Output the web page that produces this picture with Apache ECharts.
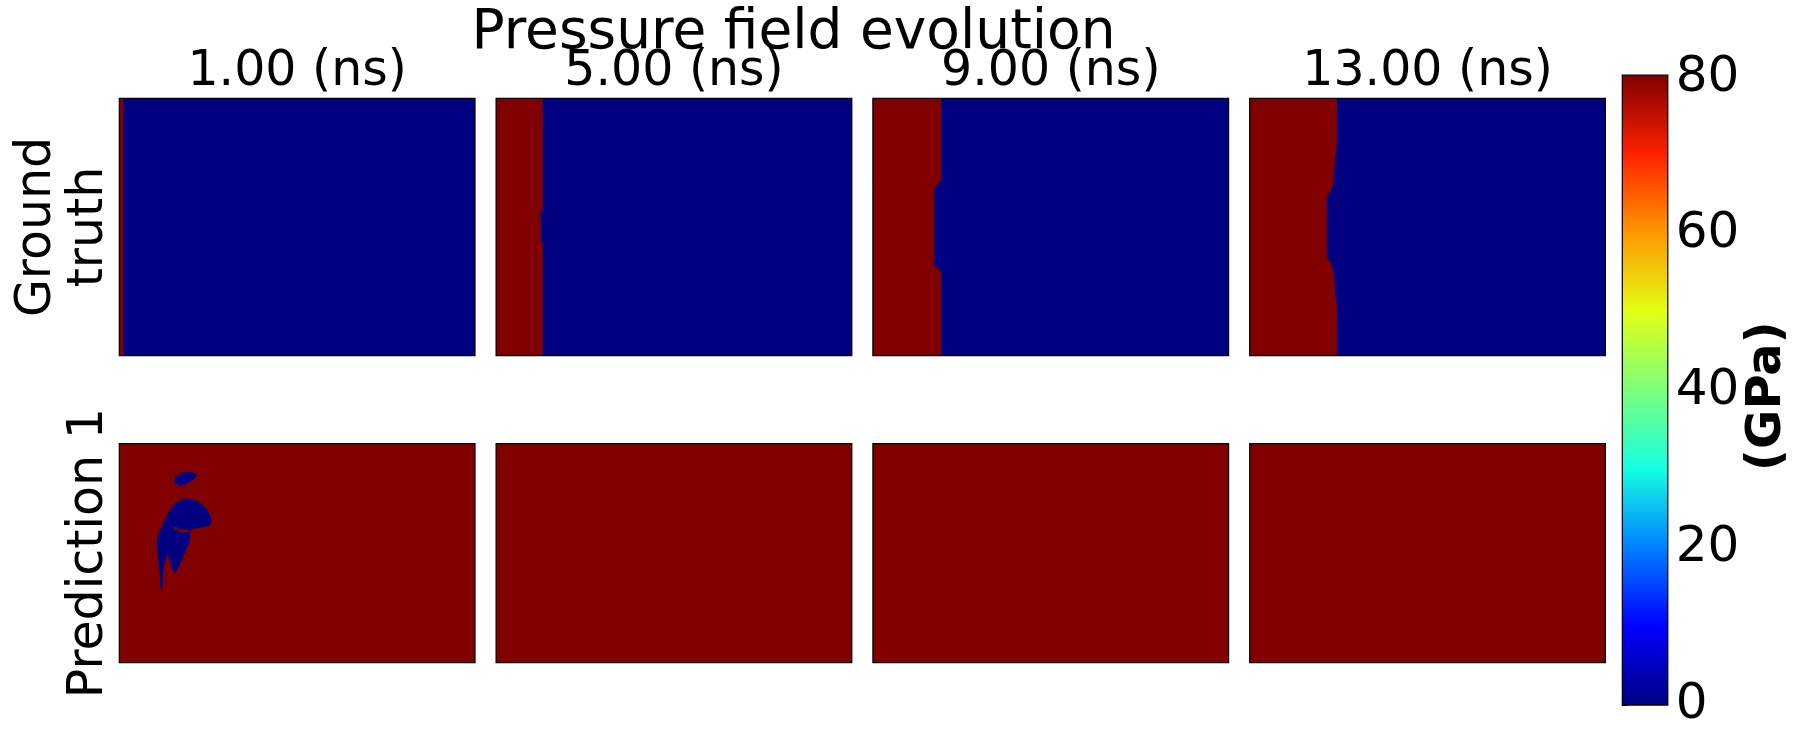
<!DOCTYPE html>
<html>
<head>
<meta charset="utf-8">
<script src="https://cdn.jsdelivr.net/npm/echarts@6/dist/echarts.min.js"></script>
<style>
  html, body { margin: 0; padding: 0; background: #fff; }
  #chart { width: 1804px; height: 744px; }
</style>
</head>
<body>
<div id="chart"></div>
<script>
// ---------------- data ----------------
const MAIN_TITLE = 'Pressure field evolution';
const TIMES = ['1.00 (ns)', '5.00 (ns)', '9.00 (ns)', '13.00 (ns)'];
const ROW_LABELS = ['Ground\ntruth', 'Prediction 1'];
const CBAR_NAME = '(GPa)';
const CBAR_TICKS = [0, 20, 40, 60, 80];
const P_MIN = 0;
const P_MAX = 80.3;
const P_LOW = 0;      // pressure ahead of the shock front
const P_HIGH = 80.3;  // saturated pressure behind the front

// field domain (cells): x 0..200 (left->right), y 0..100 (top->bottom)
const X_MAX = 200;
const Y_MAX = 100;

// ground-truth shock front, per snapshot: [y, x_front]
const FRONT_T1 = [[0, 2.2], [100, 2.2]];
const FRONT_T5 = [[0, 26.2], [44.0, 26.2], [44.0, 25.1], [55.7, 25.1], [55.7, 26.2], [100, 26.2]];
const FRONT_T9 = [[0, 38.4], [31.7, 38.4], [34.9, 34.5], [64.8, 34.5], [67.5, 38.4], [100, 38.4]];
const FRONT_T13 = [[0, 49.1], [16.9, 49.1], [24.0, 48.0], [29.8, 47.4], [33.7, 47.0], [36.3, 45.3],
                   [37.6, 43.5], [61.8, 43.5], [63.5, 45.3], [65.9, 46.8], [69.3, 47.6], [76.4, 48.2],
                   [81.5, 49.1], [100, 49.1]];

// prediction 1 at 1.00 ns: low-pressure pockets [x, y] inside a saturated field
const PRED1_T1_POCKET_SMALL = [[30.9, 16.6], [31.7, 15.1], [33.6, 13.8], [36.6, 12.9], [39.8, 12.8],
  [42.6, 13.5], [43.9, 14.4], [42.6, 15.8], [40.3, 17.3], [36.9, 18.6], [34.1, 19.2], [32.3, 18.6], [31.1, 17.6]];
const PRED1_T1_POCKET_MAIN = [[36.6, 25.0], [40.7, 25.3], [44.4, 26.5], [47.4, 28.1], [49.7, 30.4],
  [51.2, 32.9], [51.9, 35.0], [51.4, 36.8], [50.1, 37.7], [47.8, 38.0], [44.4, 38.5], [40.7, 38.8],
  [39.9, 40.2], [39.9, 42.0], [39.8, 44.0], [38.8, 46.3], [37.3, 49.0], [35.6, 52.4], [33.9, 55.4],
  [32.6, 57.7], [31.7, 58.7], [30.6, 58.7], [29.8, 57.2], [29.1, 55.1], [28.3, 53.1], [27.2, 50.5],
  [26.1, 52.7], [25.3, 55.4], [24.8, 59.2], [24.4, 63.0], [24.0, 66.8], [23.3, 66.8], [22.9, 63.0],
  [22.7, 59.2], [22.3, 55.4], [21.8, 52.4], [21.4, 48.5], [21.2, 44.7], [21.6, 42.0], [22.5, 39.9],
  [23.8, 37.9], [25.1, 35.6], [26.6, 32.9], [28.3, 30.4], [30.4, 28.1], [32.6, 26.5], [34.5, 25.6]];
// saturated slivers left inside the main pocket
const PRED1_T1_GAP_STREAK = [[33.2, 39.0], [36.9, 39.1], [39.9, 39.9], [38.1, 40.6], [34.7, 40.3], [32.8, 39.9]];
const PRED1_T1_GAP_SPOT = [[30.8, 38.0], [32.4, 38.0], [32.6, 39.3], [31.3, 39.6], [30.6, 39.0]];

// jet colormap stops
const JET = ['#000080', '#0000ff', '#0080ff', '#15ffe2', '#7bff7b', '#e2ff15', '#ff9700', '#ff2100', '#800000'];

// ---------------- layout ----------------
const FONT = 'DejaVu Sans';
const COL_LEFT0 = 119.3, COL_STEP = 376.8, COL_W = 355.7;
const ROW_TOP = [98.3, 443.7], ROW_H = [257.4, 219];
const CB = { left: 1622.3, top: 75.2, width: 45.5, height: 629.9 };

const FULL = [[0, 0], [X_MAX, 0], [X_MAX, Y_MAX], [0, Y_MAX]];
function frontRegion(front) {
  return [[0, 0]].concat(front.map(([y, x]) => [x, y])).concat([[0, Y_MAX]]);
}
const GT_FRONTS = [FRONT_T1, FRONT_T5, FRONT_T9, FRONT_T13];
const PANELS = [
  GT_FRONTS.map(f => [{ poly: FULL, p: P_LOW }, { poly: frontRegion(f), p: P_HIGH }]),
  [
    [{ poly: FULL, p: P_HIGH },
     { poly: PRED1_T1_POCKET_SMALL, p: P_LOW },
     { poly: PRED1_T1_POCKET_MAIN, p: P_LOW },
     { poly: PRED1_T1_GAP_STREAK, p: P_HIGH },
     { poly: PRED1_T1_GAP_SPOT, p: P_HIGH }],
    [{ poly: FULL, p: P_HIGH }],
    [{ poly: FULL, p: P_HIGH }],
    [{ poly: FULL, p: P_HIGH }]
  ]
];

const grid = [], xAxis = [], yAxis = [], series = [], title = [];
title.push({ text: MAIN_TITLE, left: 793.5, top: 6, textAlign: 'center', padding: 0,
  textStyle: { fontFamily: FONT, fontSize: 55, fontWeight: 'normal', color: '#000' } });
TIMES.forEach((t, c) => {
  title.push({ text: t, left: COL_LEFT0 + c * COL_STEP + COL_W / 2, top: 48, textAlign: 'center', padding: 0,
    textStyle: { fontFamily: FONT, fontSize: 49, fontWeight: 'normal', color: '#000' } });
});

let gi = 0;
const panelSeries = [];
for (let r = 0; r < 2; r++) {
  for (let c = 0; c < 4; c++) {
    grid.push({ left: COL_LEFT0 + c * COL_STEP, top: ROW_TOP[r], width: COL_W, height: ROW_H[r],
      show: true, borderColor: '#000', borderWidth: 1.2, backgroundColor: 'transparent', z: 10 });
    xAxis.push({ gridIndex: gi, type: 'value', min: 0, max: X_MAX, show: false });
    const ya = { gridIndex: gi, type: 'value', min: 0, max: Y_MAX, inverse: true,
      axisLine: { show: false }, axisTick: { show: false }, axisLabel: { show: false }, splitLine: { show: false } };
    if (c === 0) {
      Object.assign(ya, { name: ROW_LABELS[r], nameLocation: 'middle', nameRotate: 90, nameGap: 4,
        nameTextStyle: { fontFamily: FONT, fontSize: 49, color: '#000', lineHeight: 52 } });
    }
    yAxis.push(ya);
    const shapes = PANELS[r][c];
    series.push({
      type: 'custom', coordinateSystem: 'cartesian2d', xAxisIndex: gi, yAxisIndex: gi,
      silent: true, animation: false,
      data: shapes.map((s, i) => [i, s.p]),
      dimensions: ['idx', 'pressure'],
      renderItem: function (params, api) {
        const s = shapes[params.dataIndex];
        return { type: 'polygon', z2: params.dataIndex,
          shape: { points: s.poly.map(pt => api.coord(pt)) },
          style: { fill: api.visual('color') } };
      }
    });
    panelSeries.push(gi);
    gi++;
  }
}

// colorbar
grid.push({ left: CB.left, top: CB.top, width: CB.width, height: CB.height,
  show: true, borderColor: '#000', borderWidth: 1.2, backgroundColor: 'transparent', z: 10 });
xAxis.push({ gridIndex: gi, type: 'value', min: 0, max: 1, show: false });
yAxis.push({ gridIndex: gi, type: 'value', min: P_MIN, max: P_MAX, position: 'right',
  axisLine: { show: true, lineStyle: { color: '#000', width: 1 } },
  axisTick: { show: true, length: 5, customValues: CBAR_TICKS, lineStyle: { color: '#000', width: 1 } },
  axisLabel: { show: true, customValues: CBAR_TICKS, margin: 8, color: '#000', fontFamily: FONT, fontSize: 50 },
  splitLine: { show: false },
  name: CBAR_NAME, nameLocation: 'middle', nameRotate: 90, nameGap: 75,
  nameTextStyle: { fontFamily: FONT, fontSize: 48, fontWeight: 'bold', color: '#000', padding: [0, 12, 0, 0] } });
series.push({
  type: 'custom', coordinateSystem: 'cartesian2d', xAxisIndex: gi, yAxisIndex: gi, silent: true,
  data: [[0, P_MIN]],
  renderItem: function (params, api) {
    const p0 = api.coord([0, P_MIN]);
    const p1 = api.coord([1, P_MAX]);
    return { type: 'rect',
      shape: { x: p0[0], y: p1[1], width: p1[0] - p0[0], height: p0[1] - p1[1] },
      style: { fill: new echarts.graphic.LinearGradient(0, 1, 0, 0,
        JET.map((col, i) => ({ offset: i / (JET.length - 1), color: col }))) } };
  }
});

const chart = echarts.init(document.getElementById('chart'), null, { renderer: 'canvas' });
chart.setOption({
  animation: false,
  backgroundColor: '#fff',
  title, grid, xAxis, yAxis, series,
  visualMap: { type: 'continuous', show: false, min: P_MIN, max: P_MAX, dimension: 1,
    seriesIndex: panelSeries, inRange: { color: JET } }
});
</script>
</body>
</html>
